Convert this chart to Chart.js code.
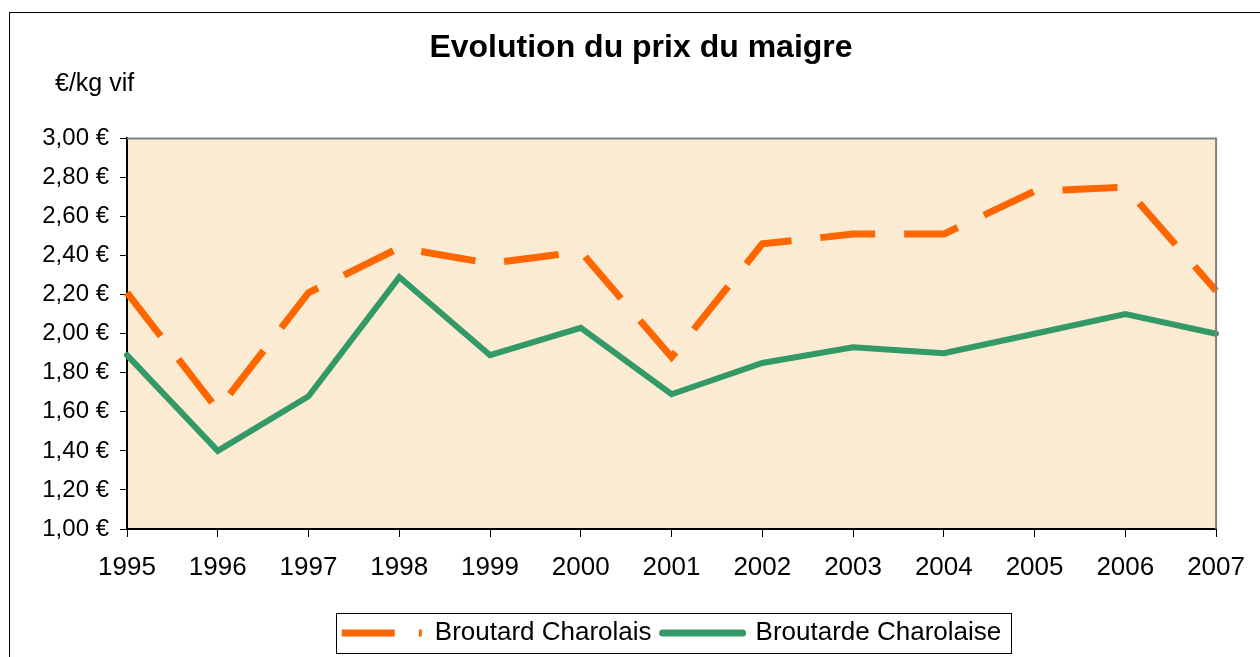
<!DOCTYPE html>
<html lang="fr">
<head>
    <meta charset="utf-8">
    <title>Evolution du prix du maigre</title>
    <script src="https://cdn.jsdelivr.net/npm/chart.js"></script>
    <style>
        body, html {
            margin: 0;
            padding: 0;
            background: #fff;
        }
        canvas {
            display: block;
        }
    </style>
</head>
<body>

<canvas id="myChart" width="1260" height="657"></canvas>

<script>
    // data
    const years = ['1995', '1996', '1997', '1998', '1999', '2000', '2001',
                   '2002', '2003', '2004', '2005', '2006', '2007'];
    const broutardCharolais = [2.21, 1.61, 2.21, 2.44, 2.36, 2.42, 1.88,
                               2.46, 2.51, 2.51, 2.73, 2.75, 2.22];
    const broutardeCharolaise = [1.89, 1.40, 1.68, 2.29, 1.89, 2.03, 1.69,
                                 1.85, 1.93, 1.90, 2.00, 2.10, 2.00];
    const yMin = 1.0;
    const yMax = 3.0;
    const yStep = 0.2;

    const fontFamily = '"Liberation Sans", Arial, sans-serif';

    // plot background, outer frame, unit label, legend frame
    const decorations = {
        id: 'decorations',
        beforeDraw(chart) {
            const ctx = chart.ctx;
            const a = chart.chartArea;
            ctx.save();
            ctx.fillStyle = '#fff';
            ctx.fillRect(0, 0, chart.width, chart.height);
            ctx.fillStyle = '#FAEBD2';
            ctx.fillRect(a.left, a.top, a.right - a.left, a.bottom - a.top);
            ctx.restore();
        },
        afterDatasetsDraw(chart) {
            const ctx = chart.ctx;
            const a = chart.chartArea;
            ctx.save();
            ctx.strokeStyle = '#808080';
            ctx.lineWidth = 2;
            ctx.beginPath();
            ctx.moveTo(a.left, a.top);
            ctx.lineTo(a.right, a.top);
            ctx.lineTo(a.right, a.bottom);
            ctx.stroke();
            ctx.restore();
        },
        afterDraw(chart) {
            const ctx = chart.ctx;
            ctx.save();
            ctx.strokeStyle = '#000';
            ctx.lineWidth = 1;
            ctx.strokeRect(9.5, 12.5, 1300, 700);

            ctx.fillStyle = '#000';
            ctx.font = '25px ' + fontFamily;
            ctx.textAlign = 'left';
            ctx.textBaseline = 'middle';
            ctx.fillText('€/kg vif', 55, 84);

            const hb = chart.legend.legendHitBoxes;
            if (hb && hb.length) {
                const first = hb[0];
                const last = hb[hb.length - 1];
                const mid = first.top + first.height / 2;
                const left = Math.round(first.left) - 5.5;
                const right = Math.round(last.left + last.width) + 10.5;
                ctx.strokeRect(left, Math.round(mid) - 19.5, right - left, 40);
            }
            ctx.restore();
        }
    };

    const data = {
        labels: years,
        datasets: [{
            label: 'Broutard Charolais',
            data: broutardCharolais,
            borderColor: '#FF6600',
            backgroundColor: '#FF6600',
            borderWidth: 7,
            borderDash: [55, 29],
            borderCapStyle: 'butt',
            tension: 0,
            fill: false,
            pointRadius: 0,
            pointHoverRadius: 0
        },
        {
            label: 'Broutarde Charolaise',
            data: broutardeCharolaise,
            borderColor: '#339966',
            backgroundColor: '#339966',
            borderWidth: 6,
            borderCapStyle: 'round',
            tension: 0,
            fill: false,
            pointRadius: 0,
            pointHoverRadius: 0
        }]
    };

    const config = {
        type: 'line',
        data: data,
        options: {
            responsive: false,
            devicePixelRatio: 1,
            animation: false,
            layout: {
                padding: {left: 22, right: 0, top: 0, bottom: 1}
            },
            plugins: {
                title: {
                    display: true,
                    text: 'Evolution du prix du maigre',
                    color: '#000',
                    font: {family: fontFamily, size: 32, weight: 'bold', lineHeight: 1.2},
                    padding: {top: 29, bottom: 71}
                },
                legend: {
                    display: true,
                    position: 'bottom',
                    fullSize: false,
                    labels: {
                        usePointStyle: true,
                        pointStyle: 'line',
                        pointStyleWidth: 80,
                        boxHeight: 7,
                        padding: 11,
                        color: '#000',
                        font: {family: fontFamily, size: 26},
                        generateLabels(chart) {
                            const items = Chart.defaults.plugins.legend.labels.generateLabels(chart);
                            items[0].lineDash = [53, 24];
                            items[0].lineCap = 'butt';
                            items[0].lineWidth = 7;
                            items[1].lineDash = [];
                            items[1].lineCap = 'round';
                            items[1].lineWidth = 7;
                            return items;
                        }
                    }
                },
                tooltip: {enabled: false}
            },
            scales: {
                x: {
                    offset: false,
                    afterFit(scale) {
                        scale.height = 80;
                    },
                    grid: {
                        display: true,
                        drawOnChartArea: false,
                        drawTicks: true,
                        tickLength: 8,
                        color: '#000',
                        lineWidth: 1
                    },
                    border: {color: '#000', width: 2},
                    ticks: {
                        color: '#000',
                        autoSkip: false,
                        maxRotation: 0,
                        padding: 15,
                        font: {family: fontFamily, size: 26}
                    }
                },
                y: {
                    min: yMin,
                    max: yMax,
                    afterFit(scale) {
                        scale.width = 105;
                    },
                    grid: {
                        display: true,
                        drawOnChartArea: false,
                        drawTicks: true,
                        tickLength: 7,
                        color: '#000',
                        lineWidth: 1
                    },
                    border: {color: '#000', width: 2},
                    ticks: {
                        stepSize: yStep,
                        color: '#000',
                        padding: 11,
                        font: {family: fontFamily, size: 24},
                        callback: function (value) {
                            return value.toFixed(2).replace('.', ',') + ' €';
                        }
                    }
                },
                // empty right-hand strip, keeps the plot clear of the right edge
                yRight: {
                    type: 'linear',
                    position: 'right',
                    display: true,
                    afterFit(scale) {
                        scale.width = 43;
                    },
                    grid: {display: false},
                    border: {display: false},
                    ticks: {display: false}
                }
            }
        },
        plugins: [decorations]
    };

    const myChart = new Chart(
        document.getElementById('myChart'),
        config
    );
</script>

</body>
</html>
